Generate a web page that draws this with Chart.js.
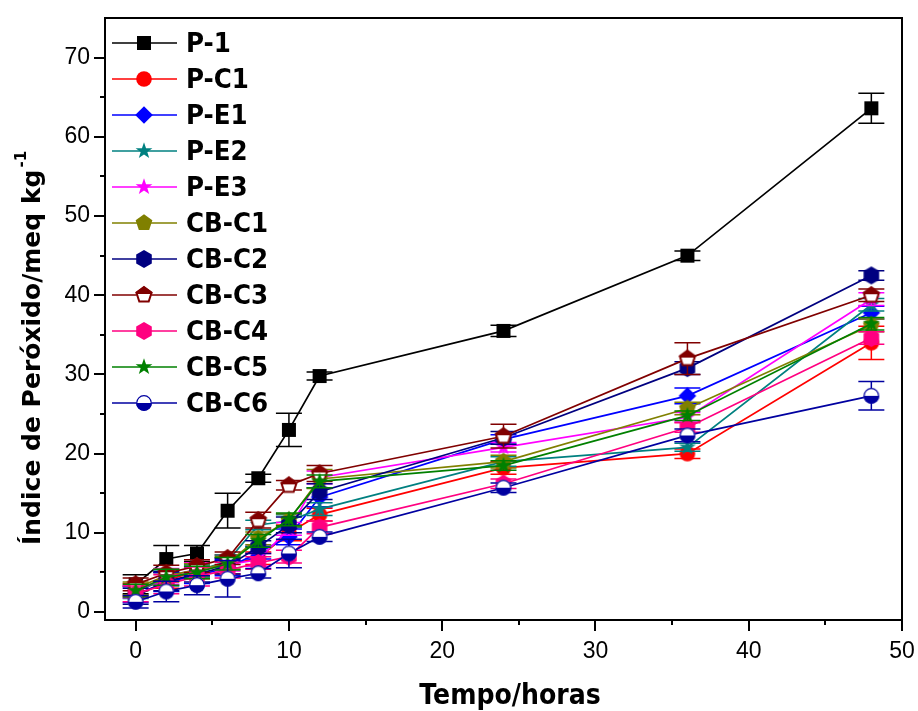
<!DOCTYPE html>
<html>
<head>
<meta charset="utf-8">
<script src="https://cdn.jsdelivr.net/npm/chart.js@4.4.0/dist/chart.umd.min.js"></script>
<style>
  html, body { margin: 0; padding: 0; background: #fff; }
  #wrap { width: 918px; height: 711px; }
</style>
</head>
<body>
<div id="wrap"><canvas id="grafico" width="918" height="711"></canvas></div>
<script>
// tempo (horas)
const horas = [0, 2, 4, 6, 8, 10, 12, 24, 36, 48];
const xTicks = [0, 10, 20, 30, 40, 50];
const yTicks = [0, 10, 20, 30, 40, 50, 60, 70];

const nomes = ['P-1', 'P-C1', 'P-E1', 'P-E2', 'P-E3', 'CB-C1', 'CB-C2', 'CB-C3', 'CB-C4', 'CB-C5', 'CB-C6'];

// índice de peróxido (meq/kg) e desvios
const p1     = [3.5, 6.7, 7.4, 12.8, 16.9, 23.0, 29.8, 35.5, 45.0, 63.6];
const p1Err  = [1.2, 1.7, 1.0, 2.2, 0.5, 2.1, 0.5, 0.7, 0.6, 1.9];
const pc1    = [2.8, 4.0, 5.2, 6.0, 6.8, 10.0, 12.3, 18.2, 20.0, 34.0];
const pc1Err = [0.8, 1.0, 1.0, 1.2, 0.8, 1.0, 0.8, 0.8, 0.6, 2.1];
const pe1    = [2.2, 3.8, 4.6, 5.6, 7.5, 9.5, 14.5, 21.8, 27.3, 37.8];
const pe1Err = [1.0, 1.2, 1.0, 1.0, 0.8, 1.0, 1.2, 0.6, 1.0, 0.8];
const pe2    = [2.5, 4.3, 5.2, 6.4, 11.0, 11.5, 13.0, 19.0, 20.8, 38.8];
const pe2Err = [0.8, 1.0, 0.8, 0.8, 0.6, 0.8, 0.8, 0.6, 0.5, 0.8];
const pe3    = [2.6, 4.5, 5.4, 6.0, 6.6, 10.5, 17.0, 20.8, 24.6, 39.5];
const pe3Err = [0.8, 1.0, 0.8, 0.8, 0.8, 0.8, 0.8, 0.6, 0.6, 0.8];
const cbc1    = [3.0, 4.6, 5.3, 6.2, 9.3, 11.6, 16.8, 19.0, 25.7, 36.2];
const cbc1Err = [0.8, 0.8, 0.8, 0.8, 0.8, 0.8, 1.2, 0.8, 0.8, 0.8];
const cbc2    = [2.0, 3.9, 4.8, 5.8, 8.2, 11.0, 15.2, 22.0, 30.8, 42.5];
const cbc2Err = [1.0, 1.2, 1.0, 1.0, 0.8, 1.0, 1.0, 0.8, 0.8, 0.6];
const cbc3    = [3.5, 4.9, 5.8, 6.8, 11.6, 16.0, 17.5, 22.2, 32.0, 40.0];
const cbc3Err = [0.8, 1.0, 0.8, 0.8, 1.0, 0.6, 1.0, 1.5, 2.0, 0.8];
const cbc4    = [2.3, 3.5, 4.5, 5.3, 6.2, 7.0, 10.7, 16.2, 23.3, 34.6];
const cbc4Err = [1.0, 1.2, 1.2, 1.0, 0.8, 0.8, 0.8, 0.6, 0.6, 0.8];
const cbc5    = [2.7, 4.4, 5.0, 6.1, 9.0, 11.7, 16.5, 18.5, 24.8, 36.4];
const cbc5Err = [0.8, 1.0, 0.8, 0.8, 0.8, 0.8, 0.8, 0.6, 0.6, 0.8];
const cbc6    = [1.3, 2.6, 3.4, 4.2, 4.9, 7.4, 9.5, 15.7, 22.3, 27.3];
const cbc6Err = [0.8, 1.3, 1.2, 2.3, 0.6, 1.8, 0.6, 0.6, 0.8, 1.8];

const valores = [p1, pc1, pe1, pe2, pe3, cbc1, cbc2, cbc3, cbc4, cbc5, cbc6];
const erros = [p1Err, pc1Err, pe1Err, pe2Err, pe3Err, cbc1Err, cbc2Err, cbc3Err, cbc4Err, cbc5Err, cbc6Err];
const cores = ['#000000', '#FF0000', '#0000FF', '#008080', '#FF00FF', '#808000', '#000080', '#800000', '#FF0080', '#008000', '#0000A0'];
const formas = ['square', 'circle', 'diamond', 'star', 'star', 'pentagon', 'hexagon', 'pentHalf', 'hexagon', 'star', 'circHalf'];

// marcadores desenhados num canvas pequeno
function poligono(ctx, n, r, rot) {
    ctx.beginPath();
    for (let i = 0; i < n; i++) {
        let a = rot + i * 2 * Math.PI / n;
        let px = Math.cos(a) * r, py = Math.sin(a) * r;
        i ? ctx.lineTo(px, py) : ctx.moveTo(px, py);
    }
    ctx.closePath();
}
function makeMarker(forma, cor) {
    const c = document.createElement('canvas');
    c.width = 22; c.height = 22;
    const g = c.getContext('2d');
    g.translate(11, 11);
    g.fillStyle = cor; g.strokeStyle = cor; g.lineWidth = 1;
    const top = -Math.PI / 2;
    if (forma === 'square') {
        g.fillRect(-7, -7, 14, 14);
    } else if (forma === 'circle') {
        g.beginPath(); g.arc(0, 0, 7.8, 0, 2 * Math.PI); g.fill();
    } else if (forma === 'diamond') {
        poligono(g, 4, 8.8, top); g.fill();
    } else if (forma === 'star') {
        g.beginPath();
        for (let i = 0; i < 10; i++) {
            let r = i % 2 ? 3.5 : 8.8;
            let a = top + i * Math.PI / 5;
            i ? g.lineTo(Math.cos(a) * r, Math.sin(a) * r) : g.moveTo(Math.cos(a) * r, Math.sin(a) * r);
        }
        g.closePath(); g.fill();
    } else if (forma === 'pentagon') {
        poligono(g, 5, 8.8, top); g.fill();
    } else if (forma === 'hexagon') {
        poligono(g, 6, 9, top); g.fill();
    } else if (forma === 'pentHalf') {
        poligono(g, 5, 8.8, top);
        g.fillStyle = '#fff'; g.fill();
        g.save(); g.clip(); g.fillStyle = cor; g.fillRect(-10, -10, 20, 9); g.restore();
        poligono(g, 5, 8, top); g.lineWidth = 2; g.stroke();
    } else if (forma === 'circHalf') {
        g.beginPath(); g.arc(0, 0, 7.8, 0, 2 * Math.PI);
        g.fillStyle = '#fff'; g.fill();
        g.beginPath(); g.arc(0, 0, 7.8, 0, Math.PI); g.closePath(); g.fillStyle = cor; g.fill();
        g.beginPath(); g.arc(0, 0, 7.3, 0, 2 * Math.PI); g.lineWidth = 1.2; g.stroke();
    }
    return c;
}
const marcadores = formas.map((f, i) => makeMarker(f, cores[i]));

const datasets = nomes.map((nome, i) => ({
    label: nome,
    data: horas.map((h, j) => ({x: h, y: valores[i][j]})),
    borderColor: cores[i],
    backgroundColor: cores[i],
    borderWidth: 1.7,
    pointStyle: marcadores[i],
    pointRadius: 8,
    pointHoverRadius: 8,
    fill: false,
    tension: 0,
    order: nomes.length - i
}));

// barras de erro, por baixo de cada série
const barrasErro = {
    id: 'barrasErro',
    beforeDatasetDraw(chart, args) {
        const {ctx, scales: {x, y}} = chart;
        const i = args.index;
        ctx.save();
        ctx.strokeStyle = cores[i];
        ctx.lineWidth = 1.5;
        horas.forEach((h, j) => {
            const px = x.getPixelForValue(h);
            const hi = y.getPixelForValue(valores[i][j] + erros[i][j]);
            const lo = y.getPixelForValue(valores[i][j] - erros[i][j]);
            ctx.beginPath();
            ctx.moveTo(px, hi); ctx.lineTo(px, lo);
            ctx.moveTo(px - 13, hi); ctx.lineTo(px + 13, hi);
            ctx.moveTo(px - 13, lo); ctx.lineTo(px + 13, lo);
            ctx.stroke();
        });
        ctx.restore();
    }
};

// moldura, marcas dos eixos, títulos e legenda
const moldura = {
    id: 'moldura',
    afterDraw(chart) {
        const {ctx, chartArea: a, scales: {x, y}} = chart;
        ctx.save();
        ctx.strokeStyle = '#000';
        ctx.lineWidth = 2;
        ctx.strokeRect(a.left, a.top, a.right - a.left, a.bottom - a.top);
        ctx.beginPath();
        for (let v = 0; v <= 50; v += 5) {
            const px = Math.round(x.getPixelForValue(v));
            ctx.moveTo(px, a.bottom); ctx.lineTo(px, a.bottom + (v % 10 ? 5 : 11));
        }
        for (let v = 0; v <= 70; v += 5) {
            const py = Math.round(y.getPixelForValue(v));
            ctx.moveTo(a.left, py); ctx.lineTo(a.left - (v % 10 ? 5 : 11), py);
        }
        ctx.stroke();

        // título eixo x
        ctx.fillStyle = '#000';
        ctx.font = 'bold 29px "DejaVu Sans"';
        ctx.textAlign = 'center';
        ctx.textBaseline = 'alphabetic';
        ctx.save();
        ctx.translate(510, 704);
        ctx.scale(0.87, 1);
        ctx.fillText('Tempo/horas', 0, 0);
        ctx.restore();

        // título eixo y com expoente
        ctx.save();
        ctx.translate(32, 545);
        ctx.rotate(-Math.PI / 2);
        ctx.textAlign = 'left';
        ctx.textBaseline = 'middle';
        ctx.font = 'bold 25px "DejaVu Sans"';
        const t = 'Índice de Peróxido/meq kg';
        ctx.fillText(t, 0, 1);
        const w = ctx.measureText(t).width;
        ctx.font = 'bold 15px "DejaVu Sans"';
        ctx.fillText('-1', w + 2, -10);
        ctx.restore();

        // legenda
        ctx.font = 'bold 27px "DejaVu Sans"';
        ctx.textBaseline = 'middle';
        ctx.textAlign = 'left';
        nomes.forEach((nome, i) => {
            const ly = a.top + 25 + i * 36;
            ctx.strokeStyle = cores[i];
            ctx.lineWidth = 1.7;
            ctx.beginPath();
            ctx.moveTo(a.left + 7, ly); ctx.lineTo(a.left + 72, ly);
            ctx.stroke();
            const m = marcadores[i];
            ctx.drawImage(m, a.left + 39 - m.width / 2, ly - m.height / 2);
            ctx.save();
            ctx.translate(a.left + 81, ly + 2);
            ctx.scale(0.91, 1);
            ctx.fillStyle = '#000';
            ctx.fillText(nome, 0, 0);
            ctx.restore();
        });
        ctx.restore();
    }
};

const fonteEixo = {family: "'Liberation Sans Narrow', 'Arial Narrow', 'Liberation Sans'", size: 23};

new Chart(document.getElementById('grafico'), {
    type: 'line',
    data: {datasets: datasets},
    options: {
        responsive: false,
        animation: false,
        devicePixelRatio: 1,
        layout: {padding: {top: 18, right: 16, left: 0, bottom: 0}},
        plugins: {legend: {display: false}, tooltip: {enabled: false}},
        scales: {
            x: {
                type: 'linear',
                min: -2, max: 50,
                afterFit: s => { s.height = 91; s.paddingLeft = 0; s.paddingRight = 0; },
                afterBuildTicks: s => { s.ticks = xTicks.map(v => ({value: v})); },
                grid: {display: false, drawTicks: false},
                border: {display: false},
                ticks: {color: '#000', padding: 18, maxRotation: 0, font: fonteEixo}
            },
            y: {
                type: 'linear',
                min: -1, max: 75,
                afterFit: s => { s.width = 105; s.paddingTop = 0; s.paddingBottom = 0; },
                afterBuildTicks: s => { s.ticks = yTicks.map(v => ({value: v})); },
                grid: {display: false, drawTicks: false},
                border: {display: false},
                ticks: {color: '#000', padding: 15, font: fonteEixo}
            }
        }
    },
    plugins: [barrasErro, moldura]
});
</script>
</body>
</html>
